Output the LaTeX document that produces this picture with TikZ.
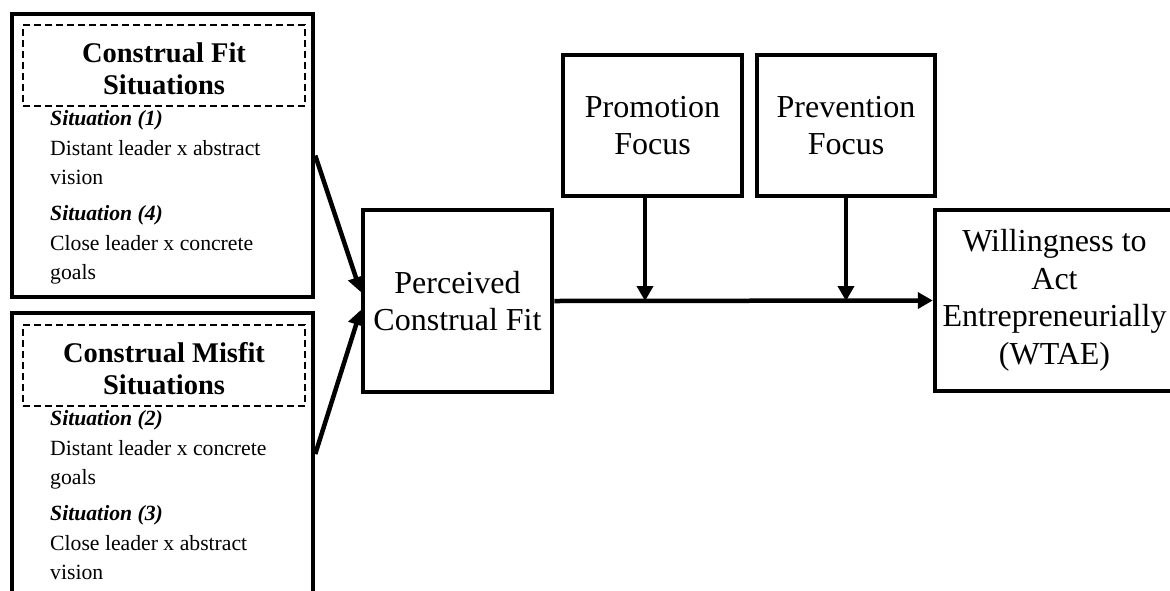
\documentclass[tikz,border=0pt]{standalone}
\usepackage{fontspec}
\setmainfont{Liberation Serif}
\usetikzlibrary{arrows.meta,calc}

\begin{document}
\begin{tikzpicture}[x=1pt,y=-1pt,
		box/.style={draw,line width=4.5pt,inner sep=0pt,align=center,font=\fontsize{32}{37.5}\selectfont},
		sitbox/.style={draw,line width=4.5pt,inner sep=0pt,minimum width=301pt},
		headbox/.style={draw,line width=2.5pt,dash pattern=on 7pt off 4pt,inner sep=0pt,align=center,
				minimum width=282pt,minimum height=81pt,font=\fontsize{28.5}{32}\selectfont\bfseries},
		sittext/.style={anchor=north west,inner sep=0pt,align=left,font=\fontsize{21.7}{29.5}\selectfont},
		arr/.style={line width=4.5pt,-{Triangle[length=15pt,width=16pt]}}]
\useasboundingbox (0,0) rectangle (1170,590);
% situations
\node[sitbox,minimum height=283pt] (fit) at (162.5,155.5) {};
\node[headbox] (fithead) at (164,65.5) {\rule{0pt}{26pt}Construal Fit\\Situations};
\node[sittext] (fittext) at (50,110.5) {\textbf{\textit{Situation (1)}}\\Distant leader x abstract\\vision\\[6.5pt]
	\textbf{\textit{Situation (4)}}\\Close leader x concrete\\goals};
\node[sitbox,minimum height=282pt] (misfit) at (162.5,454) {};
\node[headbox] (misfithead) at (164,365.5) {\rule{0pt}{26pt}Construal Misfit\\Situations};
\node[sittext] (misfittext) at (50,410.5) {\textbf{\textit{Situation (2)}}\\Distant leader x concrete\\goals\\[6.5pt]
	\textbf{\textit{Situation (3)}}\\Close leader x abstract\\vision};
% model
\node[box,minimum width=189pt,minimum height=182pt] (perceived) at (457.5,301) {Perceived\\Construal Fit};
\node[box,minimum width=179pt,minimum height=141pt] (promotion) at (652.5,125.5) {Promotion\\Focus};
\node[box,minimum width=178pt,minimum height=141pt] (prevention) at (846,125.5) {Prevention\\Focus};
\node[box,minimum width=239pt,minimum height=181pt] (wtae) at (1054.5,300.5) {Willingness to\\Act\\Entrepreneurially\\(WTAE)};
\coordinate (promohit) at (645,301);
% arrows
\draw[arr] (fit.east) -- ($(perceived.west)+(0,-9)$);
\draw[arr] (misfit.east) -- ($(perceived.west)+(0,9)$);
\draw[arr] (perceived.east) -- (wtae.west);
\draw[arr] (promotion.south -| promohit) -- (promohit);
\draw[arr] (prevention.south) -- (prevention.south |- perceived.east);
\end{tikzpicture}
\end{document}
